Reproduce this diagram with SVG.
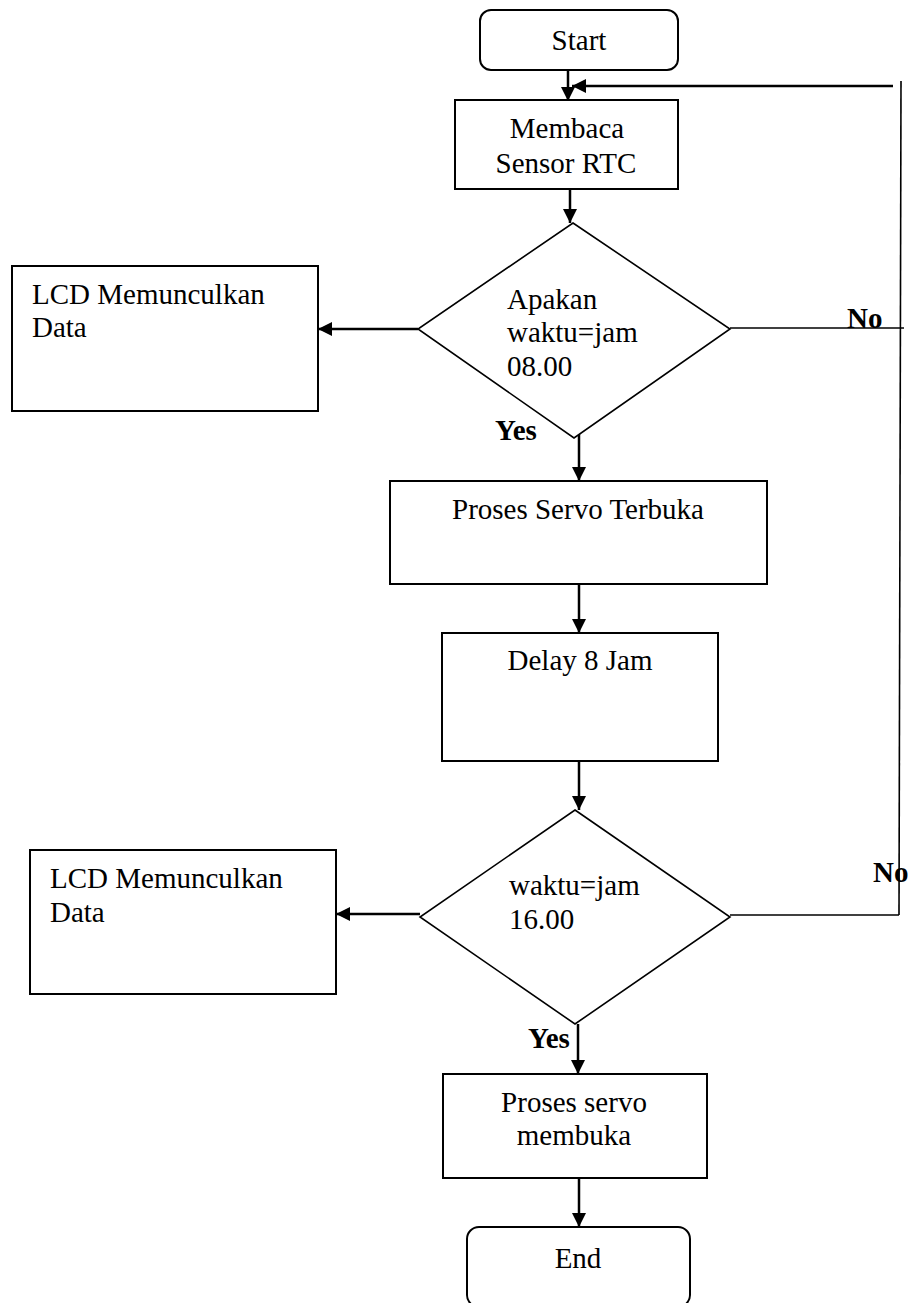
<svg xmlns="http://www.w3.org/2000/svg" width="912" height="1303" viewBox="0 0 912 1303">
<style>
text{font-family:"Liberation Serif","Times New Roman",serif;font-size:29px;fill:#000}
.c{text-anchor:middle}
.b{font-weight:bold}
.box{fill:#fff;stroke:#000;stroke-width:2}
.dia{fill:#fff;stroke:#000;stroke-width:1.6}
.ln{fill:none;stroke:#000;stroke-width:2.5}
.thin{fill:none;stroke:#000;stroke-width:1.6}
</style>
<defs>
<marker id="ah" markerUnits="userSpaceOnUse" markerWidth="14" markerHeight="14" refX="14" refY="7" orient="auto">
<path d="M0,0 L14,7 L0,14 z" fill="#000"/>
</marker>
</defs>
<rect width="912" height="1303" fill="#fff"/>
<g id="connectors">
<line class="ln" x1="568" y1="70" x2="568" y2="101" marker-end="url(#ah)"/>
<line class="ln" x1="893" y1="86" x2="572" y2="86" marker-end="url(#ah)"/>
<line class="ln" x1="570" y1="189" x2="570" y2="223" marker-end="url(#ah)"/>
<line class="ln" x1="418" y1="329" x2="318" y2="329" marker-end="url(#ah)"/>
<line class="thin" x1="730" y1="328" x2="904" y2="328"/>
<line class="thin" x1="901" y1="81" x2="899" y2="915"/>
<line class="thin" x1="730" y1="915" x2="899" y2="915"/>
<line class="ln" x1="579" y1="432" x2="579" y2="481" marker-end="url(#ah)"/>
<line class="ln" x1="579" y1="584" x2="579" y2="633" marker-end="url(#ah)"/>
<line class="ln" x1="579" y1="761" x2="579" y2="810" marker-end="url(#ah)"/>
<line class="ln" x1="420" y1="914" x2="336" y2="914" marker-end="url(#ah)"/>
<line class="ln" x1="578" y1="1024" x2="578" y2="1074" marker-end="url(#ah)"/>
<line class="ln" x1="579" y1="1178" x2="579" y2="1227" marker-end="url(#ah)"/>
</g>
<g id="start">
<rect class="box" x="480" y="10" width="198" height="60" rx="11"/>
<text class="c" x="579" y="50">Start</text>
</g>
<g id="baca">
<rect class="box" x="455" y="100" width="223" height="89"/>
<text class="c" x="567" y="138">Membaca</text>
<text class="c" x="566" y="173">Sensor RTC</text>
</g>
<g id="cek1">
<polygon class="dia" points="573,223 730,329 574,438 418,329"/>
<text x="507" y="309">Apakan</text>
<text x="507" y="342">waktu=jam</text>
<text x="507" y="376">08.00</text>
</g>
<g id="lcd1">
<rect class="box" x="12" y="266" width="306" height="145"/>
<text x="32" y="304">LCD Memunculkan</text>
<text x="32" y="337">Data</text>
</g>
<g id="label-no1"><text class="b" x="847" y="328">No</text></g>
<g id="label-yes1"><text class="b" x="495" y="440">Yes</text></g>
<g id="servo-terbuka">
<rect class="box" x="390" y="481" width="377" height="103"/>
<text class="c" x="578" y="519">Proses Servo Terbuka</text>
</g>
<g id="delay">
<rect class="box" x="442" y="633" width="276" height="128"/>
<text class="c" x="580" y="670">Delay 8 Jam</text>
</g>
<g id="cek2">
<polygon class="dia" points="575,810 730,917 575,1024 420,917"/>
<text x="509" y="895">waktu=jam</text>
<text x="509" y="929">16.00</text>
</g>
<g id="lcd2">
<rect class="box" x="30" y="850" width="306" height="144"/>
<text x="50" y="888">LCD Memunculkan</text>
<text x="50" y="922">Data</text>
</g>
<g id="label-no2"><text class="b" x="873" y="882">No</text></g>
<g id="label-yes2"><text class="b" x="528" y="1048">Yes</text></g>
<g id="servo-membuka">
<rect class="box" x="443" y="1074" width="264" height="104"/>
<text class="c" x="574" y="1112">Proses servo</text>
<text class="c" x="574" y="1145">membuka</text>
</g>
<g id="end">
<rect class="box" x="467" y="1227" width="223" height="80" rx="12"/>
<text class="c" x="578" y="1268">End</text>
</g>
</svg>
